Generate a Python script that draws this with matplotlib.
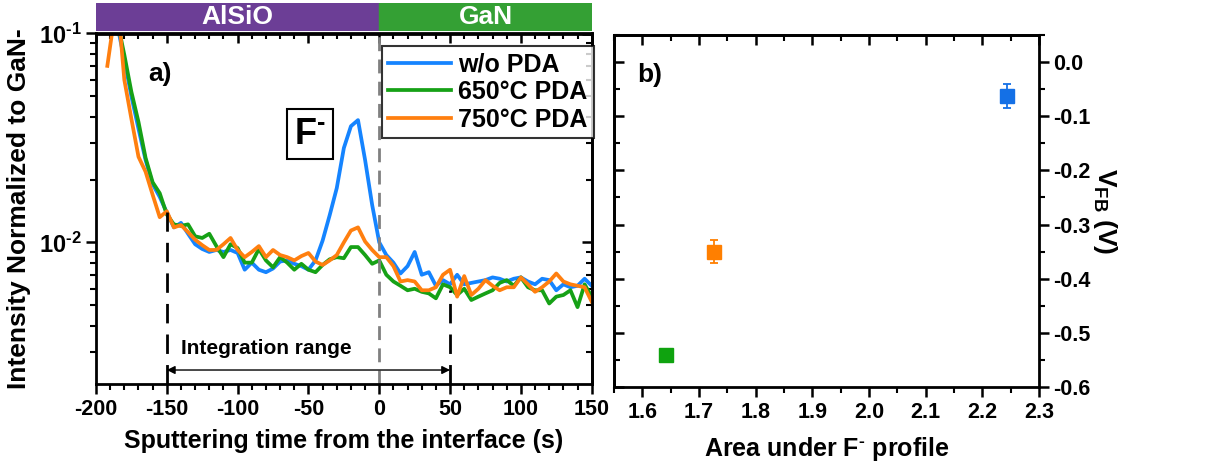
import matplotlib
matplotlib.use('Agg')
import matplotlib.pyplot as plt
from matplotlib.ticker import MultipleLocator, FixedLocator, NullFormatter, FormatStrFormatter

plt.rcParams['font.family'] = ['Liberation Sans', 'DejaVu Sans']
plt.rcParams['font.weight'] = 'bold'
plt.rcParams['axes.labelweight'] = 'bold'
plt.rcParams['axes.unicode_minus'] = False
plt.rcParams['mathtext.fontset'] = 'custom'
plt.rcParams['mathtext.rm'] = 'Liberation Sans:bold'
plt.rcParams['mathtext.bf'] = 'Liberation Sans:bold'
plt.rcParams['mathtext.it'] = 'Liberation Sans:bold'

# sputtering time (s)
t = [-192, -185, -180, -175, -170, -165, -160, -155, -150, -145, -140, -135, -130,
     -125, -120, -115, -110, -105, -100, -95, -90, -85, -80, -75, -70, -65, -60,
     -55, -50, -45, -40, -35, -30, -25, -20, -15, -10, -5, 0, 5, 10, 15, 20, 25,
     30, 35, 40, 45, 50, 55, 60, 65, 70, 75, 80, 85, 90, 95, 100, 105, 110, 115,
     120, 125, 130, 135, 140, 145, 150]

wo_pda = [0.20, 0.11, 0.075, 0.050, 0.035, 0.0248, 0.019, 0.0165, 0.0139, 0.0118,
          0.0124, 0.0110, 0.0098, 0.0093, 0.0090, 0.0092, 0.0090, 0.0092, 0.0089,
          0.0074, 0.0080, 0.0074, 0.0072, 0.0075, 0.0081, 0.0082, 0.0079, 0.0077,
          0.0074, 0.0082, 0.0102, 0.0135, 0.0182, 0.0283, 0.0360, 0.0385, 0.0248,
          0.0151, 0.0100, 0.0087, 0.0080, 0.0071, 0.0077, 0.0090, 0.0070, 0.0072,
          0.0062, 0.0066, 0.0063, 0.0070, 0.0063, 0.0064, 0.0065, 0.0066, 0.0068,
          0.0067, 0.0065, 0.0067, 0.0068, 0.0065, 0.0063, 0.0067, 0.0066, 0.0059,
          0.0063, 0.0061, 0.0062, 0.0067, 0.0062]

pda_650 = [0.20, 0.115, 0.079, 0.0525, 0.0377, 0.0254, 0.0194, 0.0172, 0.0136, 0.0122,
           0.0120, 0.0122, 0.0107, 0.0105, 0.0110, 0.0096, 0.0085, 0.0098, 0.0094,
           0.0080, 0.0080, 0.0093, 0.0082, 0.0076, 0.0085, 0.0080, 0.0074, 0.0079,
           0.0074, 0.0072, 0.0078, 0.0083, 0.0085, 0.0084, 0.0095, 0.0095, 0.0087,
           0.0079, 0.0082, 0.0070, 0.0065, 0.0062, 0.0059, 0.0060, 0.0058, 0.0057,
           0.0054, 0.0063, 0.0061, 0.0056, 0.0060, 0.0053, 0.0055, 0.0057, 0.0059,
           0.0064, 0.0066, 0.0062, 0.0068, 0.0061, 0.0059, 0.0059, 0.0051, 0.0055,
           0.0056, 0.0059, 0.0049, 0.0063, 0.0055]

pda_750 = [0.070, 0.15, 0.060, 0.039, 0.0257, 0.0218, 0.0169, 0.0132, 0.0141, 0.0118,
           0.0121, 0.0112, 0.0103, 0.0097, 0.0092, 0.0092, 0.0098, 0.0105, 0.0092,
           0.0085, 0.0090, 0.0096, 0.0085, 0.0092, 0.0087, 0.0085, 0.0082, 0.0086,
           0.0089, 0.0081, 0.0078, 0.0082, 0.0087, 0.0100, 0.0114, 0.0118, 0.0101,
           0.0092, 0.0085, 0.0085, 0.0077, 0.0065, 0.0066, 0.0065, 0.0059, 0.0059,
           0.0061, 0.0070, 0.0074, 0.0055, 0.0069, 0.0056, 0.0060, 0.0066, 0.0062,
           0.0059, 0.0061, 0.0061, 0.0068, 0.0063, 0.0058, 0.0061, 0.0065, 0.0071,
           0.0065, 0.0063, 0.0062, 0.0061, 0.0052]

labels = ['w/o PDA', '650°C PDA', '750°C PDA']
line_colors = ['#1584FF', '#16A116', '#FF7F0F']

# panel b
area = [2.243, 1.727, 1.641]
vfb = [-0.062, -0.350, -0.541]
vfb_err = [0.022, 0.021, 0.008]
point_colors = ['#1470E6', '#FF7F00', '#0FA30F']

W, H = 1209, 463
fig = plt.figure(figsize=(W / 100, H / 100), dpi=100)

def box(x0, y0, x1, y1):
    return [x0 / W, 1 - y1 / H, (x1 - x0) / W, (y1 - y0) / H]

tick_kw = dict(labelsize=15.5, width=1.8)

# ---- panel a ----
ax = fig.add_axes(box(96, 33.5, 591.7, 384))
for y, lab, c in zip([wo_pda, pda_650, pda_750], labels, line_colors):
    ax.plot(t, y, color=c, lw=2.7, label=lab)
ax.set_yscale('log')
ax.set_xlim(-200, 150)
ax.set_ylim(0.0021, 0.1)
ax.xaxis.set_major_locator(MultipleLocator(50))
ax.xaxis.set_minor_locator(MultipleLocator(10))
ax.yaxis.set_major_locator(FixedLocator([0.01, 0.1]))
ax.set_yticklabels([r'$10^{\text{-}2}$', r'$10^{\text{-}1}$'])
ax.tick_params(which='major', direction='out', length=7, **tick_kw)
ax.tick_params(axis='y', which='major', labelsize=17)
ax.tick_params(which='minor', direction='out', length=4, width=1.5)
for s in ax.spines.values():
    s.set_linewidth(2)

top = ax.secondary_xaxis('top')
top.xaxis.set_major_locator(MultipleLocator(50))
top.xaxis.set_minor_locator(MultipleLocator(10))
top.tick_params(which='major', direction='in', length=7, width=1.8, labeltop=False)
top.tick_params(which='minor', direction='in', length=4, width=1.5)
top.spines['top'].set_linewidth(2)
right = ax.secondary_yaxis('right')
right.yaxis.set_major_locator(FixedLocator([0.01, 0.1]))
right.tick_params(which='major', direction='in', length=7, width=1.8, labelright=False)
right.tick_params(which='minor', direction='in', length=4, width=1.5, labelright=False)
right.yaxis.set_minor_formatter(NullFormatter())
right.spines['right'].set_linewidth(2)

ax.axvline(0, color='#808080', lw=2, ls=(0, (5, 3)))
ax.plot([-150, -150], [0.0021, 0.014], color='black', lw=2, ls=(0, (7, 4)))
ax.plot([50, 50], [0.0021, 0.0059], color='black', lw=2, ls=(0, (7, 4)))
ax.annotate('', xy=(-150, 0.00245), xytext=(50, 0.00245),
            arrowprops=dict(arrowstyle='<|-|>', color='black', lw=1.0,
                            mutation_scale=12, shrinkA=0, shrinkB=0))
ax.text(-80, 0.0031, 'Integration range', fontsize=15, ha='center', va='center')
ax.text(0.13, 0.885, 'a)', transform=ax.transAxes, fontsize=19, ha='center', va='center')
ax.text(-49, 0.033, r'F$^{\text{-}}$', fontsize=26, ha='center', va='center',
        bbox=dict(boxstyle='square,pad=0.2', fc='white', ec='black', lw=1.5))

leg = ax.legend(loc='upper left', bbox_to_anchor=(0.577, 0.964), borderaxespad=0,
                fontsize=18, frameon=True, fancybox=False, edgecolor='black',
                handlelength=2.5, handletextpad=0.3, labelspacing=0.15,
                borderpad=0.25)
leg.get_frame().set_linewidth(1.5)

ax.set_xlabel('Sputtering time from the interface (s)', fontsize=18, labelpad=7)
fig.text(19 / W, 1 - 209 / H, 'Intensity Normalized to GaN-', rotation=90,
         fontsize=19, ha='center', va='center')

# layer bar
bar = fig.add_axes(box(96, 3, 591.7, 31))
bar.set_xlim(-200, 150)
bar.set_ylim(0, 1)
bar.axvspan(-200, 0, color='#6C3E96')
bar.axvspan(0, 150, color='#34A034')
bar.text(-100, 0.5, 'AlSiO', color='white', fontsize=19, ha='center', va='center')
bar.text(75, 0.5, 'GaN', color='white', fontsize=19, ha='center', va='center')
bar.axis('off')

# ---- panel b ----
bx = fig.add_axes(box(614, 35, 1039, 387))
for x, y, e, c in zip(area, vfb, vfb_err, point_colors):
    bx.errorbar(x, y, yerr=e, fmt='s', color=c, ms=9.5, capsize=3, elinewidth=1.3,
                capthick=1.3)
bx.set_xlim(1.55, 2.3)
bx.set_ylim(-0.6, 0.05)
bx.xaxis.set_major_locator(MultipleLocator(0.1))
bx.xaxis.set_minor_locator(MultipleLocator(0.05))
bx.yaxis.set_major_locator(MultipleLocator(0.1))
bx.yaxis.set_minor_locator(MultipleLocator(0.05))
bx.yaxis.tick_right()
bx.yaxis.set_major_formatter(FormatStrFormatter('%.1f'))
bx.xaxis.set_major_formatter(FormatStrFormatter('%.1f'))
bx.tick_params(which='major', direction='out', length=7, **tick_kw)
bx.tick_params(which='minor', direction='out', length=4, width=1.5)
for s in bx.spines.values():
    s.set_linewidth(2)
btop = bx.secondary_xaxis('top')
btop.xaxis.set_major_locator(MultipleLocator(0.1))
btop.xaxis.set_minor_locator(MultipleLocator(0.05))
btop.tick_params(which='major', direction='in', length=7, width=1.8, labeltop=False)
btop.tick_params(which='minor', direction='in', length=4, width=1.5)
btop.spines['top'].set_linewidth(2)
bleft = bx.secondary_yaxis('left')
bleft.yaxis.set_major_locator(MultipleLocator(0.1))
bleft.yaxis.set_minor_locator(MultipleLocator(0.05))
bleft.tick_params(which='major', direction='in', length=7, width=1.8, labelleft=False)
bleft.tick_params(which='minor', direction='in', length=4, width=1.5)
bleft.spines['left'].set_linewidth(2)
bx.text(0.085, 0.885, 'b)', transform=bx.transAxes, fontsize=19, ha='center', va='center')
bx.set_xlabel(r'Area under F$^{\text{-}}$ profile', fontsize=18, labelpad=9)
fig.text(1105 / W, 1 - 211 / H, r'V$_{\mathregular{FB}}$ (V)', rotation=270,
         fontsize=19, ha='center', va='center')

fig.savefig('out.png', dpi=100)
